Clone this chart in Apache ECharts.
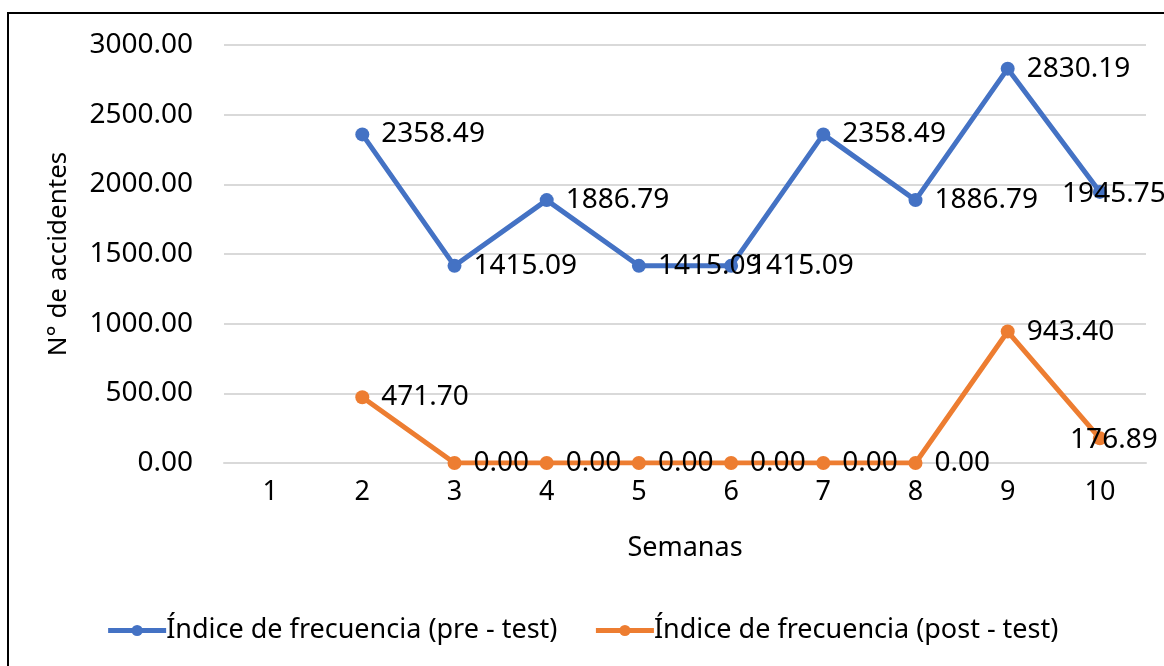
<!DOCTYPE html>
<html>
<head>
<meta charset="utf-8">
<script src="https://cdn.jsdelivr.net/npm/echarts@6/dist/echarts.min.js"></script>
<style>
  html, body { margin: 0; padding: 0; background: #fff; }
  #chart { width: 1164px; height: 666px; }
</style>
</head>
<body>
<div id="chart"></div>
<script>
// semanas
const semanas = ['1', '2', '3', '4', '5', '6', '7', '8', '9', '10'];
// indice de frecuencia, null = sin dato
const preTest = [null, 2358.49, 1415.09, 1886.79, 1415.09, 1415.09, 2358.49, 1886.79, 2830.19, 1945.75];
const postTest = [null, 471.70, 0, 0, 0, 0, 0, 0, 943.40, 176.89];

const FONT = 'Noto Sans';
const chart = echarts.init(document.getElementById('chart'));

// the last label gets pushed back inside the chart, like excel does
function toData(arr) {
  return arr.map(function (v, i) {
    if (i === arr.length - 1) {
      return { value: v, label: { position: 'inside', offset: [14, 2] } };
    }
    return v;
  });
}

const labelStyle = {
  show: true,
  position: 'right',
  distance: 12,
  color: '#000',
  fontFamily: FONT,
  fontSize: 28,
  formatter: function (p) { return p.value.toFixed(2); }
};

let option = {
  animation: false,
  textStyle: { fontFamily: FONT },
  graphic: [{
    type: 'rect',
    shape: { x: 8, y: 13, width: 1170, height: 700 },
    style: { fill: 'none', stroke: '#000', lineWidth: 2 },
    silent: true
  }],
  grid: { left: 224, right: 18, top: 45, bottom: 203 },
  legend: {
    top: 612,
    left: 'center',
    itemWidth: 58,
    itemHeight: 14,
    itemGap: 36,
    lineStyle: { width: 5 },
    textStyle: { fontFamily: FONT, fontSize: 27, color: '#000', padding: [0, 0, 0, -5] },
    data: ['Índice de frecuencia (pre - test)', 'Índice de frecuencia (post - test)']
  },
  xAxis: {
    type: 'category',
    data: semanas,
    name: 'Semanas',
    nameLocation: 'middle',
    nameGap: 72,
    nameTextStyle: { fontFamily: FONT, fontSize: 27, color: '#000' },
    axisLine: { lineStyle: { color: '#d9d9d9', width: 2 } },
    axisTick: { show: false },
    axisLabel: { color: '#000', fontFamily: FONT, fontSize: 27, margin: 16 }
  },
  yAxis: {
    type: 'value',
    min: 0,
    max: 3000,
    interval: 500,
    name: 'N° de accidentes',
    nameLocation: 'middle',
    nameGap: 152,
    nameTextStyle: { fontFamily: FONT, fontSize: 26, color: '#000' },
    axisLine: { show: false },
    axisTick: { show: false },
    splitLine: { lineStyle: { color: '#d9d9d9', width: 2 } },
    axisLabel: {
      color: '#000', fontFamily: FONT, fontSize: 28, margin: 31,
      formatter: function (v) { return v.toFixed(2); }
    }
  },
  series: [
    {
      name: 'Índice de frecuencia (pre - test)',
      type: 'line',
      data: toData(preTest),
      symbol: 'circle',
      symbolSize: 14,
      lineStyle: { width: 5, color: '#4472C4' },
      itemStyle: { color: '#4472C4' },
      label: labelStyle
    },
    {
      name: 'Índice de frecuencia (post - test)',
      type: 'line',
      data: toData(postTest),
      symbol: 'circle',
      symbolSize: 14,
      lineStyle: { width: 5, color: '#ED7D31' },
      itemStyle: { color: '#ED7D31' },
      label: labelStyle
    }
  ]
};

chart.setOption(option);
</script>
</body>
</html>
